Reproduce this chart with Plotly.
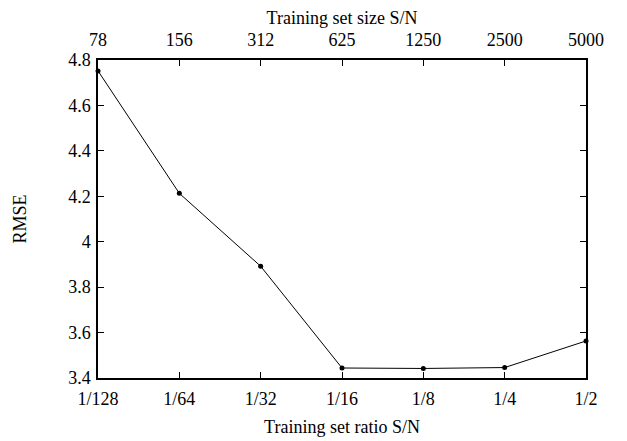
import plotly.graph_objects as go

ratio_labels = ["1/128", "1/64", "1/32", "1/16", "1/8", "1/4", "1/2"]
size_labels = ["78", "156", "312", "625", "1250", "2500", "5000"]
rmse = [4.752, 4.213, 3.892, 3.444, 3.442, 3.446, 3.563]
y_ticks = [3.4, 3.6, 3.8, 4.0, 4.2, 4.4, 4.6, 4.8]
y_ticktext = ["3.4", "3.6", "3.8", "4", "4.2", "4.4", "4.6", "4.8"]

idx = list(range(len(ratio_labels)))
font = dict(family="Liberation Serif", size=18, color="black")

fig = go.Figure()
fig.add_trace(go.Scatter(x=idx, y=rmse, mode="lines+markers",
                         line=dict(color="black", width=1),
                         marker=dict(color="black", size=5),
                         showlegend=False, cliponaxis=False))
fig.add_trace(go.Scatter(x=idx, y=rmse, xaxis="x2", mode="markers",
                         marker=dict(opacity=0), showlegend=False, hoverinfo="skip"))

axis_common = dict(showgrid=False, zeroline=False, ticks="inside", ticklen=6,
                   tickcolor="black", linecolor="black", linewidth=1.5,
                   tickfont=font, automargin=False)
fig.update_layout(
    width=619, height=433,
    margin=dict(l=90, r=41, t=52, b=63),
    plot_bgcolor="white", paper_bgcolor="white",
    font=font,
    xaxis=dict(range=[0, 6], tickvals=idx, ticktext=ratio_labels,
               showline=True, ticklabelstandoff=4,
               title=dict(text="Training set ratio S/N", font=font, standoff=12),
               **axis_common),
    xaxis2=dict(range=[0, 6], tickvals=idx, ticktext=size_labels,
                overlaying="x", side="top", showline=True, ticklabelstandoff=5,
                title=dict(text="Training set size S/N", font=font, standoff=14),
                **axis_common),
    yaxis=dict(range=[3.4, 4.8], tickvals=y_ticks, ticktext=y_ticktext,
               showline=True, mirror="ticks", ticklabelstandoff=2,
               title=dict(text="RMSE", font=font, standoff=37),
               **axis_common),
)
fig.write_html("out.html")
